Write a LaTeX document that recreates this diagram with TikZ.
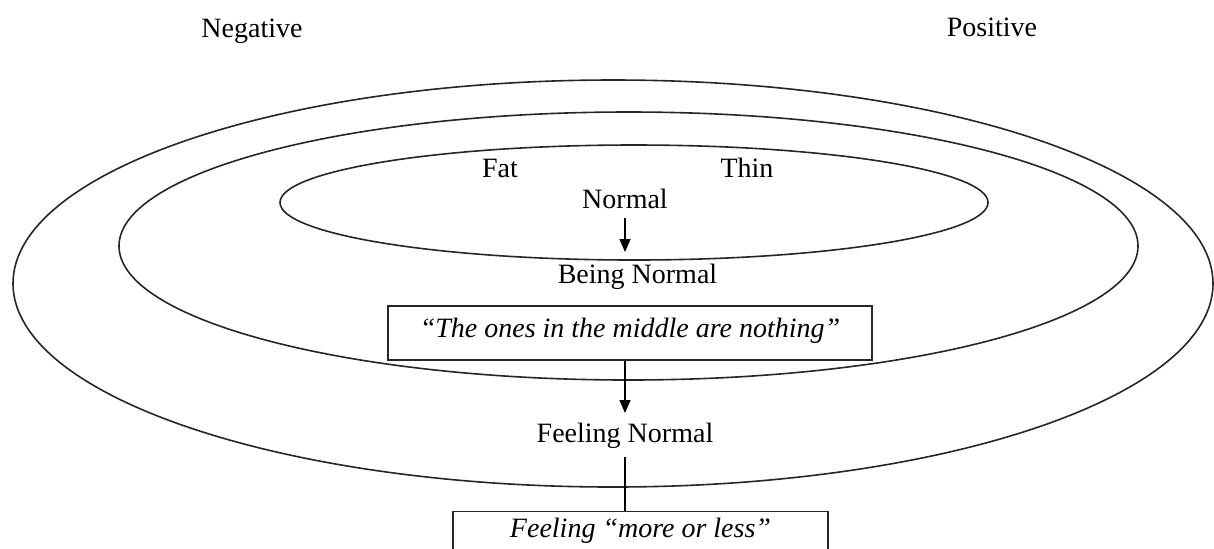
\documentclass[tikz,border=0pt]{standalone}
\usepackage{fontspec}
\setmainfont{Liberation Serif}
\usetikzlibrary{arrows.meta}
\begin{document}
\begin{tikzpicture}[x=0.5pt,y=-0.5pt,
  ring/.style={draw=black!85,line width=0.8pt},
  lbl/.style={anchor=base,inner sep=0pt,font=\fontsize{14pt}{16pt}\selectfont},
  quotebox/.style={draw=black!85,line width=0.7pt,inner sep=0pt,
    font=\fontsize{14pt}{16pt}\selectfont\itshape},
  flow/.style={line width=0.75pt,-{Triangle[length=6.5pt,width=5.5pt]}},
  link/.style={line width=0.75pt}]
\useasboundingbox (0,0) rectangle (1214,548);

% three nested rings
\draw[ring] (613,283.5) ellipse [x radius=300pt, y radius=101.75pt];
\draw[ring] (628.5,246) ellipse [x radius=254.75pt, y radius=67pt];
\draw[ring] (634,202.5) ellipse [x radius=177pt, y radius=28.75pt];

% axis labels
\node[lbl] (neg) at (252,37) {Negative};
\node[lbl] (pos) at (992,36) {Positive};

% inner ring labels
\node[lbl] (fat) at (500,177) {Fat};
\node[lbl] (thin) at (747,177) {Thin};
\node[lbl] (normal) at (625,208) {Normal};

\node[lbl] (being) at (637.5,283) {Being Normal};
\node[quotebox,minimum width=242pt,text height=15.5pt,text depth=11.5pt]
  (middle) at (630,337) [anchor=base] {“The ones in the middle are nothing”};

\node[lbl] (feeling) at (625,442) {Feeling Normal};
\node[quotebox,minimum width=187.5pt,text height=13pt,text depth=17pt,anchor=north]
  (moreless) at (640.5,511) {Feeling “more or less”};

% connectors
\coordinate (a1s) at (625,218);
\coordinate (a1e) at (625,252);
\coordinate (a2e) at (625,413);
\coordinate (l3s) at (625,457);
\draw[flow] (a1s) -- (a1e);
\draw[flow] (middle.south -| a2e) -- (a2e);
\draw[link] (l3s) -- (moreless.north -| l3s);
\end{tikzpicture}
\end{document}
